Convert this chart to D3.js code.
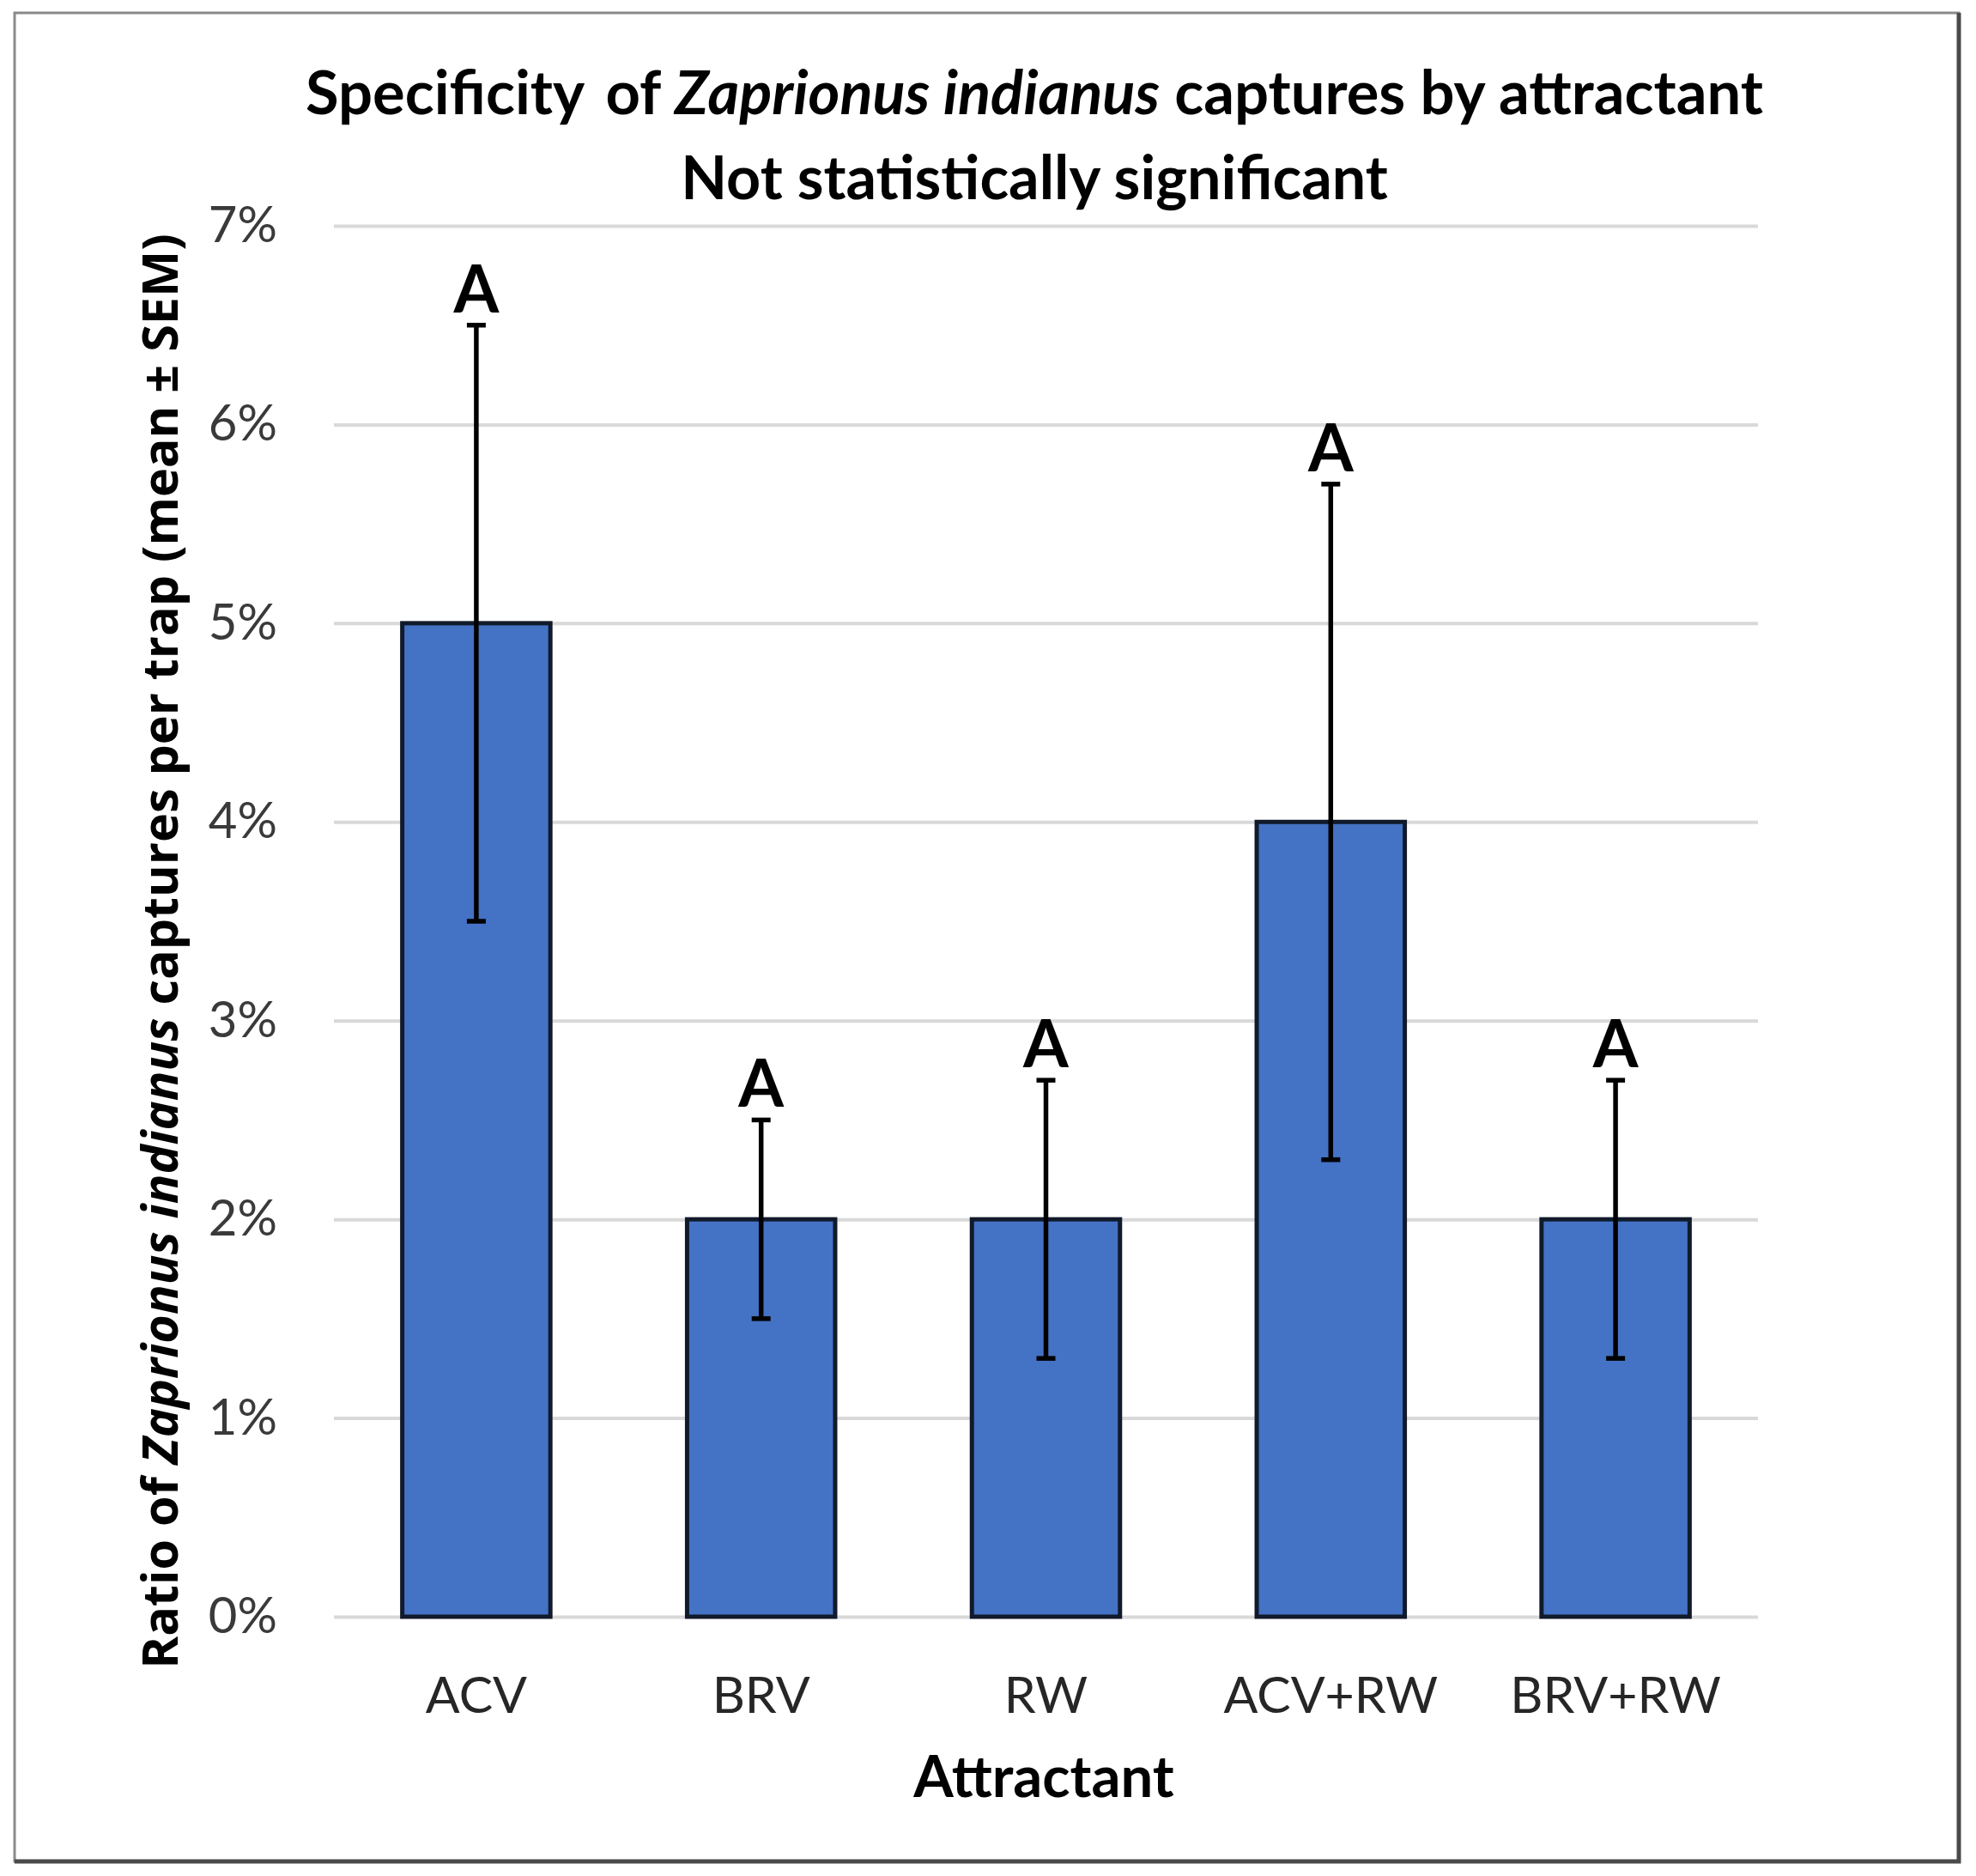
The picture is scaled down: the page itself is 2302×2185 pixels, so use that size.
<!DOCTYPE html>
<html>
<head>
<meta charset="utf-8">
<script src="https://cdn.jsdelivr.net/npm/d3@7"></script>
<style>
  body { margin: 0; background: #fff; }
  svg { display: block; }
</style>
</head>
<body>
<div id="chart"></div>
<script>
// chart values (percent)
const attractants = ['ACV', 'BRV', 'RW', 'ACV+RW', 'BRV+RW'];
const means = [5.0, 2.0, 2.0, 4.0, 2.0];
const sems = [1.5, 0.5, 0.7, 1.7, 0.7];
const letters = ['A', 'A', 'A', 'A', 'A'];
const yTicks = [0, 1, 2, 3, 4, 5, 6, 7];

const width = 2302;
const height = 2185;
const plot = { left: 389, right: 2048, top: 263, bottom: 1883 };

const rows = attractants.map((name, i) => ({
  name,
  mean: means[i],
  sem: sems[i],
  letter: letters[i],
}));

const svg = d3.select('#chart')
  .append('svg')
  .attr('width', width)
  .attr('height', height)
  .attr('viewBox', `0 0 ${width} ${height}`);

// frame
svg.append('rect')
  .attr('x', 17).attr('y', 15)
  .attr('width', 2265).attr('height', 2153)
  .attr('fill', '#fff')
  .attr('stroke', '#8a8a8a')
  .attr('stroke-width', 3);
svg.append('path')
  .attr('d', 'M2282,15 V2168 H17')
  .attr('fill', 'none')
  .attr('stroke', '#4a4a4a')
  .attr('stroke-width', 5);

const x = d3.scaleBand()
  .domain(attractants)
  .range([plot.left, plot.right])
  .paddingInner(0.48)
  .paddingOuter(0.24);

const y = d3.scaleLinear()
  .domain([0, 7])
  .range([plot.bottom, plot.top]);

// gridlines
const grid = svg.append('g')
  .attr('transform', `translate(${plot.left},0)`)
  .call(d3.axisLeft(y).tickValues(yTicks).tickFormat('').tickSize(-(plot.right - plot.left)));
grid.select('.domain').remove();
grid.selectAll('line').attr('stroke', '#d9d9d9').attr('stroke-width', 4);

// y tick labels
const yAxis = svg.append('g')
  .attr('transform', `translate(323,0)`)
  .call(d3.axisLeft(y).tickValues(yTicks).tickFormat((d) => d + '%').tickSize(0).tickPadding(0));
yAxis.select('.domain').remove();
yAxis.selectAll('text')
  .attr('font-family', 'Lato, sans-serif')
  .attr('font-weight', 400)
  .attr('font-size', 58)
  .attr('fill', '#3a3a3a');

// bars
svg.append('g')
  .selectAll('rect')
  .data(rows)
  .join('rect')
  .attr('x', (d) => x(d.name))
  .attr('y', (d) => y(d.mean))
  .attr('width', x.bandwidth())
  .attr('height', (d) => y(0) - y(d.mean))
  .attr('fill', '#4472c4')
  .attr('stroke', '#111a2b')
  .attr('stroke-width', 5);

// error bars
const cx = (d) => x(d.name) + x.bandwidth() / 2;
const err = svg.append('g')
  .attr('stroke', '#000')
  .attr('stroke-width', 5.5);
err.selectAll('line.stem')
  .data(rows)
  .join('line')
  .attr('class', 'stem')
  .attr('x1', cx).attr('x2', cx)
  .attr('y1', (d) => y(d.mean - d.sem))
  .attr('y2', (d) => y(d.mean + d.sem));
err.selectAll('line.top')
  .data(rows)
  .join('line')
  .attr('class', 'top')
  .attr('x1', (d) => cx(d) - 11).attr('x2', (d) => cx(d) + 11)
  .attr('y1', (d) => y(d.mean + d.sem))
  .attr('y2', (d) => y(d.mean + d.sem));
err.selectAll('line.bottom')
  .data(rows)
  .join('line')
  .attr('class', 'bottom')
  .attr('x1', (d) => cx(d) - 11).attr('x2', (d) => cx(d) + 11)
  .attr('y1', (d) => y(d.mean - d.sem))
  .attr('y2', (d) => y(d.mean - d.sem));

// significance letters
svg.append('g')
  .selectAll('text')
  .data(rows)
  .join('text')
  .attr('x', cx)
  .attr('y', (d) => y(d.mean + d.sem) - 15)
  .attr('text-anchor', 'middle')
  .attr('font-family', 'Lato, sans-serif')
  .attr('font-weight', 700)
  .attr('font-size', 76)
  .attr('fill', '#000')
  .text((d) => d.letter);

// category labels
const xAxis = svg.append('g')
  .attr('transform', `translate(0,1995)`)
  .call(d3.axisBottom(x).tickSize(0).tickPadding(0));
xAxis.select('.domain').remove();
xAxis.selectAll('text')
  .attr('dy', 0)
  .attr('font-family', 'Lato, sans-serif')
  .attr('font-size', 59)
  .attr('fill', '#262626');

// axis titles
svg.append('text')
  .attr('x', 1216)
  .attr('y', 2093)
  .attr('text-anchor', 'middle')
  .attr('font-family', 'Lato, sans-serif')
  .attr('font-weight', 700)
  .attr('font-size', 67)
  .text('Attractant');

const yTitle = svg.append('text')
  .attr('transform', 'translate(207,1108) rotate(-90)')
  .attr('text-anchor', 'middle')
  .attr('font-family', '"Open Sans", sans-serif')
  .attr('font-weight', 700)
  .attr('font-size', 57.5);
yTitle.append('tspan').text('Ratio of ');
yTitle.append('tspan').attr('font-style', 'italic').text('Zaprionus indianus');
yTitle.append('tspan').text(' captures per trap (mean \u00b1 SEM)');

// chart title
const title = svg.append('text')
  .attr('x', 1205)
  .attr('y', 133)
  .attr('text-anchor', 'middle')
  .attr('font-family', 'Lato, sans-serif')
  .attr('font-weight', 700)
  .attr('font-size', 70.5)
  .style('white-space', 'pre');
title.append('tspan').text('Specificity \u2009of ');
title.append('tspan').attr('font-style', 'italic').text('Zaprionus indianus');
title.append('tspan').text(' captures by attractant');

svg.append('text')
  .attr('x', 1205)
  .attr('y', 232)
  .attr('text-anchor', 'middle')
  .attr('font-family', 'Lato, sans-serif')
  .attr('font-weight', 700)
  .attr('font-size', 70)
  .text('Not statistically significant');
</script>
</body>
</html>
